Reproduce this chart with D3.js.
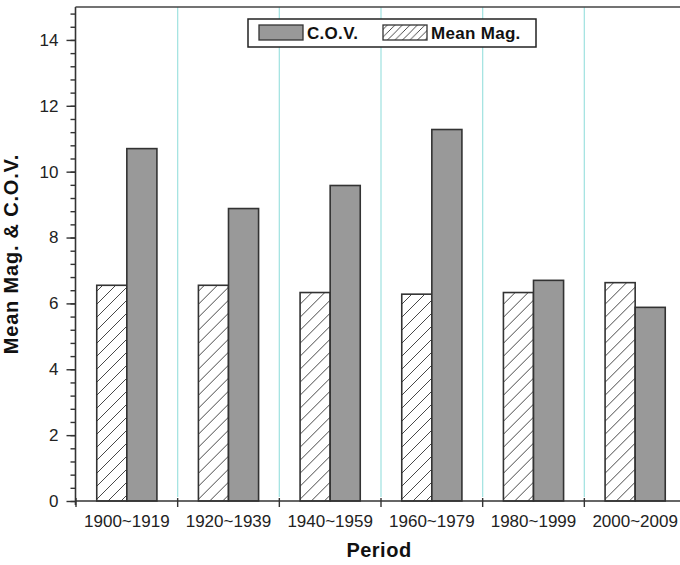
<!DOCTYPE html>
<html>
<head>
<meta charset="utf-8">
<script src="https://cdn.jsdelivr.net/npm/d3@7"></script>
<style>
  html, body { margin: 0; padding: 0; background: #fff; }
  svg { display: block; font-family: "Liberation Sans", Arial, Helvetica, sans-serif; }
</style>
</head>
<body>
<svg id="chart" width="680" height="565"></svg>
<script>
// Periods on the x axis
const periods = ["1900~1919", "1920~1939", "1940~1959", "1960~1979", "1980~1999", "2000~2009"];
// Mean magnitude per period (hatched bars)
const meanMag = [6.55, 6.55, 6.33, 6.28, 6.33, 6.63];
// Coefficient of variation per period (grey bars)
const cov = [10.7, 8.88, 9.58, 11.28, 6.7, 5.88];
// Series names as drawn in the legend
const seriesNames = ["Mean Mag.", "C.O.V."];
// Y axis labelled ticks
const yTicks = [0, 2, 4, 6, 8, 10, 12, 14];

const svg = d3.select("#chart");
const plot = { left: 76, right: 686, top: 7, bottom: 501 };

const x = d3.scaleBand().domain(periods).range([plot.left, plot.right]).padding(0);
const x1 = d3.scaleBand().domain(seriesNames).range([0, x.bandwidth()])
  .paddingInner(0).paddingOuter(0.69);
const y = d3.scaleLinear().domain([0, 15]).range([plot.bottom, plot.top]);

// Diagonal hatch patterns (bars and legend swatch)
const defs = svg.append("defs");
function hatch(id, s) {
  const p = defs.append("pattern").attr("id", id)
    .attr("patternUnits", "userSpaceOnUse").attr("width", s).attr("height", s);
  p.append("rect").attr("width", s).attr("height", s).attr("fill", "#fff");
  p.append("path")
    .attr("d", `M0,${s} L${s},0 M${-s / 2},${s / 2} L${s / 2},${-s / 2} M${s / 2},${s * 1.5} L${s * 1.5},${s / 2}`)
    .attr("stroke", "#333").attr("stroke-width", 0.9);
}
hatch("hatchBar", 13);
hatch("hatchLegend", 7.5);

// Cyan separators between periods
svg.append("g").selectAll("line")
  .data(periods.slice(1))
  .join("line")
  .attr("x1", d => x(d)).attr("x2", d => x(d))
  .attr("y1", plot.top).attr("y2", plot.bottom - 4)
  .attr("stroke", "#a6e4e2").attr("stroke-width", 1.3);

// Bars
const rows = periods.map((p, i) => ({ period: p, vals: [
  { key: "Mean Mag.", v: meanMag[i] },
  { key: "C.O.V.", v: cov[i] }
] }));

const groups = svg.append("g").selectAll("g")
  .data(rows).join("g")
  .attr("transform", d => `translate(${x(d.period)},0)`);

groups.selectAll("rect")
  .data(d => d.vals).join("rect")
  .attr("x", d => x1(d.key))
  .attr("width", x1.bandwidth())
  .attr("y", d => y(d.v))
  .attr("height", d => y(0) - y(d.v))
  .attr("fill", d => d.key === "C.O.V." ? "#999999" : "url(#hatchBar)")
  .attr("stroke", "#333").attr("stroke-width", 1.6);

// Y axis with minor ticks
const yAxisG = svg.append("g").attr("transform", `translate(${plot.left - 0.5},0)`);
yAxisG.call(d3.axisLeft(y).tickValues(d3.range(0, 15.01, 0.4)).tickSize(5).tickFormat(""))
  .call(g => g.select(".domain").remove());
yAxisG.append("g")
  .call(d3.axisLeft(y).tickValues(yTicks).tickSize(9).tickPadding(8).tickFormat(d3.format("d")))
  .call(g => g.select(".domain").remove());
yAxisG.selectAll("line").attr("stroke", "#333").attr("stroke-width", 1.4);
yAxisG.selectAll("text").attr("font-size", 17).attr("fill", "#222")
  .attr("font-family", "'Liberation Sans', Arial, sans-serif");
yAxisG.append("line").attr("x1", 0).attr("x2", 0).attr("y1", plot.top).attr("y2", plot.bottom + 4)
  .attr("stroke", "#333").attr("stroke-width", 1.6);

// X axis: ticks at period boundaries, labels at centres
const xAxisG = svg.append("g").attr("transform", `translate(0,${plot.bottom})`);
xAxisG.append("line").attr("x1", plot.left).attr("x2", plot.right)
  .attr("stroke", "#333").attr("stroke-width", 1.6);
xAxisG.selectAll("line.tick")
  .data(periods).join("line").attr("class", "tick")
  .attr("x1", d => x(d)).attr("x2", d => x(d))
  .attr("y1", -3).attr("y2", 6)
  .attr("stroke", "#333").attr("stroke-width", 1.4);
xAxisG.selectAll("text")
  .data(periods).join("text")
  .attr("x", d => x(d) + x.bandwidth() / 2)
  .attr("y", 26)
  .attr("text-anchor", "middle")
  .attr("font-size", 17).attr("fill", "#222")
  .text(d => d);

// Top frame line
svg.append("line").attr("x1", plot.left - 0.5).attr("x2", plot.right)
  .attr("y1", plot.top).attr("y2", plot.top)
  .attr("stroke", "#444").attr("stroke-width", 1.6);

// Axis titles
svg.append("text")
  .attr("x", (plot.left + plot.right) / 2 - 2).attr("y", 557)
  .attr("text-anchor", "middle").attr("font-weight", "bold").attr("font-size", 20)
  .attr("letter-spacing", 0.5)
  .attr("fill", "#111").text("Period");
svg.append("text")
  .attr("transform", `translate(18,${(plot.top + plot.bottom) / 2}) rotate(-90)`)
  .attr("text-anchor", "middle").attr("font-weight", "bold").attr("font-size", 20)
  .attr("letter-spacing", 0.8)
  .attr("fill", "#111").text("Mean Mag. & C.O.V.");

// Legend
const lg = svg.append("g");
lg.append("rect").attr("x", 248).attr("y", 19).attr("width", 288).attr("height", 28)
  .attr("fill", "#fff").attr("stroke", "#222").attr("stroke-width", 1.5);
const legendItems = [
  { key: "C.O.V.", x: 259, fill: "#999999" },
  { key: "Mean Mag.", x: 383, fill: "url(#hatchLegend)" }
];
const li = lg.selectAll("g").data(legendItems).join("g");
li.append("rect").attr("x", d => d.x).attr("y", 25).attr("width", 44).attr("height", 15)
  .attr("fill", d => d.fill).attr("stroke", "#333").attr("stroke-width", 1.3);
li.append("text").attr("x", d => d.x + 48).attr("y", 39)
  .attr("font-weight", "bold").attr("font-size", 17).attr("letter-spacing", 0.3).attr("fill", "#111")
  .text(d => d.key);
</script>
</body>
</html>
